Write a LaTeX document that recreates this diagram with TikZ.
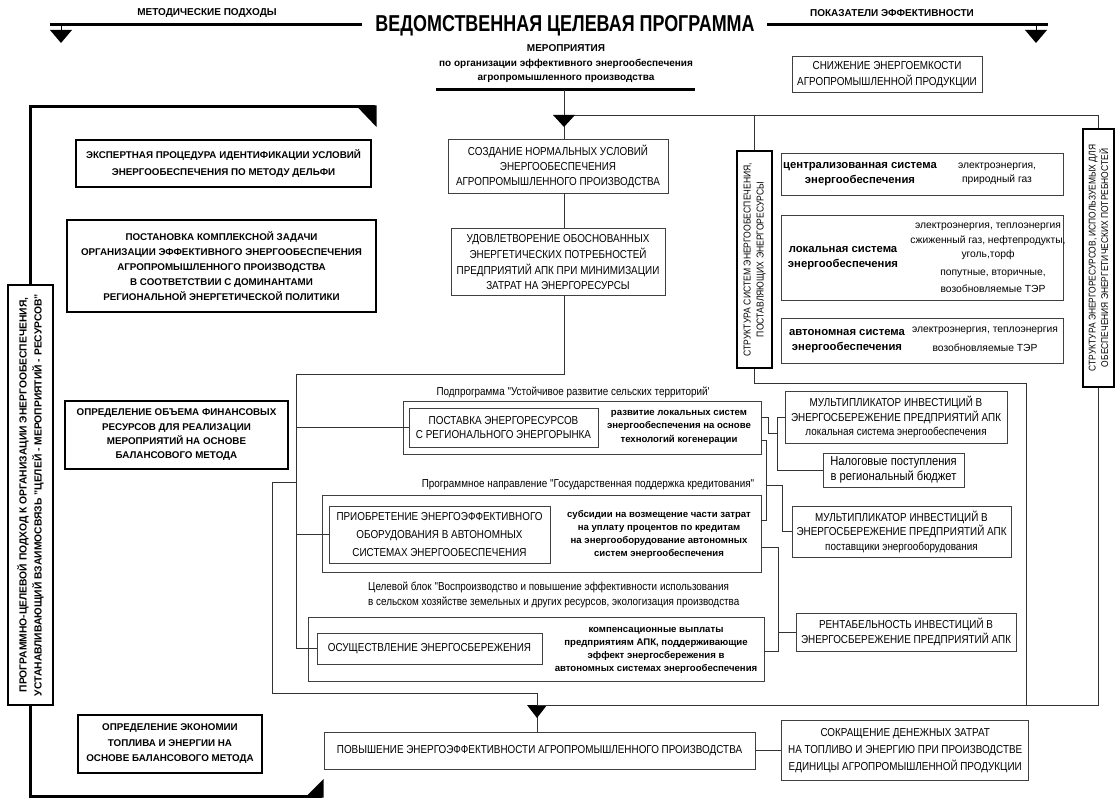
\documentclass[tikz,border=0pt]{standalone}
\usepackage{fontspec}
\setmainfont{Liberation Sans}
\newfontfamily\nf[FakeStretch=0.86]{Liberation Sans}
\newfontfamily\tf[FakeStretch=0.78]{Liberation Sans}
\usetikzlibrary{positioning}

\begin{document}
\begin{tikzpicture}[x=1pt,y=-1pt,
    box/.style={draw=black!75,line width=0.7pt,inner sep=0pt,align=center,font=\nf\fontsize{11.5}{15}\selectfont},
    hbox/.style={draw,line width=2.6pt,inner sep=0pt,align=center,font=\bfseries\fontsize{9.8}{15}\selectfont},
    frame/.style={draw=black!75,line width=0.7pt,inner sep=0pt},
    lbl/.style={inner sep=0pt,align=center,font=\nf\fontsize{11.5}{15}\selectfont},
    rlbl/.style={inner sep=0pt,align=center,font=\fontsize{10.3}{14.5}\selectfont},
    blbl/.style={inner sep=0pt,align=center,font=\bfseries\fontsize{9.6}{13}\selectfont},
    wire/.style={draw=black!80,line width=0.7pt},
    bar/.style={line width=3pt}]
\useasboundingbox (0,0) rectangle (1115,799);

\node[inner sep=0pt,font=\tf\bfseries\fontsize{23}{26}\selectfont] (prog) at (565,26) {ВЕДОМСТВЕННАЯ ЦЕЛЕВАЯ ПРОГРАММА};
\node[font=\bfseries\fontsize{10}{12}\selectfont] (meth) at (207,13) {МЕТОДИЧЕСКИЕ ПОДХОДЫ};
\node[font=\bfseries\fontsize{10}{12}\selectfont] (perf) at (892,13) {ПОКАЗАТЕЛИ ЭФФЕКТИВНОСТИ};
\coordinate (lend) at (50,25);
\coordinate (rend) at (1048,25);
\draw[bar] (prog.west |- lend) ++(-13,0) -- (lend);
\draw[bar] (prog.east |- rend) ++(12,0) -- (rend);
\draw[line width=1pt] (61,25) -- (61,30);
\fill (50,30) -- (72,30) -- (61,43) -- cycle;
\draw[line width=1pt] (1036,25) -- (1036,30);
\fill (1025,30) -- (1047,30) -- (1036,43) -- cycle;

\node[inner sep=0pt,align=center,font=\bfseries\fontsize{10}{14.5}\selectfont] (meropr) at (566,64)
    {МЕРОПРИЯТИЯ\\по организации эффективного энергообеспечения\\агропромышленного производства};
\draw[bar] (436,90) -- (695,90);
\node[box,minimum width=190pt,minimum height=36pt,font=\nf\fontsize{11.5}{15.5}\selectfont] (snizh) at (887,74.5)
    {СНИЖЕНИЕ ЭНЕРГОЕМКОСТИ\\АГРОПРОМЫШЛЕННОЙ ПРОДУКЦИИ};

\node[box,minimum width=220pt,minimum height=54pt] (sozd) at (558,166)
    {СОЗДАНИЕ НОРМАЛЬНЫХ УСЛОВИЙ\\ЭНЕРГООБЕСПЕЧЕНИЯ\\АГРОПРОМЫШЛЕННОГО ПРОИЗВОДСТВА};
\node[box,minimum width=214pt,minimum height=67pt,font=\nf\fontsize{11.5}{15.7}\selectfont,below=35pt of sozd] (udovl)
    {УДОВЛЕТВОРЕНИЕ ОБОСНОВАННЫХ\\ЭНЕРГЕТИЧЕСКИХ ПОТРЕБНОСТЕЙ\\ПРЕДПРИЯТИЙ АПК ПРИ МИНИМИЗАЦИИ\\ЗАТРАТ НА ЭНЕРГОРЕСУРСЫ};

\node[hbox,minimum width=295pt,minimum height=47pt,font=\bfseries\fontsize{9.8}{17}\selectfont] (ekspert) at (223.5,163.5)
    {ЭКСПЕРТНАЯ ПРОЦЕДУРА ИДЕНТИФИКАЦИИ УСЛОВИЙ\\ЭНЕРГООБЕСПЕЧЕНИЯ ПО МЕТОДУ ДЕЛЬФИ};
\node[hbox,minimum width=309pt,minimum height=92pt] (postan) at (221.5,266)
    {ПОСТАНОВКА КОМПЛЕКСНОЙ ЗАДАЧИ\\ОРГАНИЗАЦИИ ЭФФЕКТИВНОГО  ЭНЕРГООБЕСПЕЧЕНИЯ\\АГРОПРОМЫШЛЕННОГО ПРОИЗВОДСТВА\\В СООТВЕТСТВИИ С ДОМИНАНТАМИ\\РЕГИОНАЛЬНОЙ ЭНЕРГЕТИЧЕСКОЙ ПОЛИТИКИ};
\node[hbox,minimum width=223pt,minimum height=68pt,font=\bfseries\fontsize{9.8}{14.3}\selectfont] (opredfin) at (176.5,435)
    {ОПРЕДЕЛЕНИЕ  ОБЪЕМА ФИНАНСОВЫХ\\РЕСУРСОВ  ДЛЯ РЕАЛИЗАЦИИ\\МЕРОПРИЯТИЙ  НА ОСНОВЕ\\БАЛАНСОВОГО МЕТОДА};
\node[hbox,minimum width=184pt,minimum height=58pt,font=\bfseries\fontsize{9.8}{15.5}\selectfont] (opredekon) at (170,744)
    {ОПРЕДЕЛЕНИЕ ЭКОНОМИИ\\ТОПЛИВА И ЭНЕРГИИ НА\\ОСНОВЕ БАЛАНСОВОГО МЕТОДА};
\node[hbox,rotate=90,minimum width=420pt,minimum height=45pt,font=\bfseries\fontsize{10.3}{15}\selectfont] (pcp) at (30.5,495)
    {ПРОГРАММНО-ЦЕЛЕВОЙ ПОДХОД К ОРГАНИЗАЦИИ ЭНЕРГООБЕСПЕЧЕНИЯ,\\УСТАНАВЛИВАЮЩИЙ ВЗАИМОСВЯЗЬ "ЦЕЛЕЙ - МЕРОПРИЯТИЙ - РЕСУРСОВ"};

\node[hbox,rotate=90,minimum width=217pt,minimum height=35pt,font=\nf\fontsize{10}{13}\selectfont] (strsys) at (754.5,259.5)
    {СТРУКТУРА СИСТЕМ ЭНЕРГООБЕСПЕЧЕНИЯ,\\ПОСТАВЛЯЮЩИХ ЭНЕРГОРЕСУРСЫ};
\node[hbox,rotate=90,minimum width=258pt,minimum height=31pt,font=\nf\fontsize{9.8}{12.5}\selectfont] (strres) at (1098.5,258)
    {СТРУКТУРА ЭНЕРГОРЕСУРСОВ, ИСПОЛЬЗУЕМЫХ ДЛЯ\\ОБЕСПЕЧЕНИЯ ЭНЕРГЕТИЧЕСКИХ ПОТРЕБНОСТЕЙ};

\node[box,minimum width=282pt,minimum height=42pt] (central) at (922,174) {};
\node[blbl,font=\bfseries\fontsize{11.3}{15}\selectfont] (centrl) at (860,174) {централизованная система\\энергообеспечения};
\node[rlbl] (centrr) at (997,174) {электроэнергия,\\природный газ};
\node[box,minimum width=282pt,minimum height=85pt] (local) at (922,257.5) {};
\node[blbl,font=\bfseries\fontsize{11.3}{15}\selectfont] (locl) at (843,258) {локальная система\\энергообеспечения};
\node[rlbl] (locr) at (988,241.5) {электроэнергия, теплоэнергия\\сжиженный газ, нефтепродукты,\\уголь,торф};
\node[rlbl,font=\fontsize{10.3}{17}\selectfont] (locv) at (993,281.5) {попутные, вторичные,\\возобновляемые ТЭР};
\node[box,minimum width=282pt,minimum height=45pt] (auton) at (922,340.5) {};
\node[blbl,font=\bfseries\fontsize{11.3}{15}\selectfont] (autl) at (847,341) {автономная система\\энергообеспечения};
\node[rlbl,font=\fontsize{10.3}{19}\selectfont] (autr) at (985,339.5) {электроэнергия, теплоэнергия\\возобновляемые ТЭР};

\node[lbl] (g1t) at (573,392) {Подпрограмма "Устойчивое развитие сельских территорий'};
\node[frame,minimum width=358pt,minimum height=53pt] (g1) at (582,427.5) {};
\node[box,minimum width=189pt,minimum height=39pt,font=\nf\fontsize{11.5}{13.5}\selectfont] (post) at (503.5,427.5)
    {ПОСТАВКА ЭНЕРГОРЕСУРСОВ\\С РЕГИОНАЛЬНОГО ЭНЕРГОРЫНКА};
\node[blbl,font=\bfseries\fontsize{9.6}{13.5}\selectfont] (kogen) at (679,427) {развитие локальных систем\\энергообеспечения на основе\\технологий когенерации};

\node[lbl] (g2t) at (588,485) {Программное направление "Государственная поддержка кредитования"};
\node[frame,minimum width=439pt,minimum height=77pt] (g2) at (541.5,533.5) {};
\node[box,minimum width=221pt,minimum height=57pt,font=\nf\fontsize{11.5}{18}\selectfont] (prio) at (439.5,534.5)
    {ПРИОБРЕТЕНИЕ  ЭНЕРГОЭФФЕКТИВНОГО\\ОБОРУДОВАНИЯ В  АВТОНОМНЫХ\\СИСТЕМАХ  ЭНЕРГООБЕСПЕЧЕНИЯ};
\node[blbl] (subs) at (659,534) {субсидии на возмещение части затрат\\на уплату процентов по кредитам\\на энергооборудование  автономных\\систем  энергообеспечения};

\node[lbl,align=left,anchor=west] (g3t) at (368,594.5)
    {Целевой блок "Воспроизводство и повышение эффективности использования\\в сельском хозяйстве земельных и других ресурсов, экологизация производства};
\node[frame,minimum width=456pt,minimum height=64pt] (g3) at (536,649) {};
\node[box,minimum width=225pt,minimum height=31pt] (osu) at (429.5,648.5) {ОСУЩЕСТВЛЕНИЕ ЭНЕРГОСБЕРЕЖЕНИЯ};
\node[blbl] (komp) at (656,650.5) {компенсационные выплаты\\предприятиям АПК, поддерживающие\\эффект энергосбережения в\\автономных системах энергообеспечения};

\node[box,minimum width=222pt,minimum height=52pt,font=\nf\fontsize{11.5}{14.5}\selectfont] (mult1) at (896,417)
    {МУЛЬТИПЛИКАТОР ИНВЕСТИЦИЙ В\\ЭНЕРГОСБЕРЕЖЕНИЕ ПРЕДПРИЯТИЙ АПК\\локальная система энергообеспечения};
\node[box,minimum width=141pt,minimum height=34pt,font=\nf\fontsize{13}{14.7}\selectfont] (nalog) at (893.5,470)
    {Налоговые поступления\\в региональный бюджет};
\node[box,minimum width=219pt,minimum height=51pt,font=\nf\fontsize{11.5}{14.5}\selectfont] (mult2) at (901.5,531.5)
    {МУЛЬТИПЛИКАТОР ИНВЕСТИЦИЙ В\\ЭНЕРГОСБЕРЕЖЕНИЕ ПРЕДПРИЯТИЙ АПК\\поставщики энергооборудования};
\node[box,minimum width=220pt,minimum height=38pt] (rent) at (906,632)
    {РЕНТАБЕЛЬНОСТЬ ИНВЕСТИЦИЙ В\\ЭНЕРГОСБЕРЕЖЕНИЕ  ПРЕДПРИЯТИЙ АПК};

\node[box,minimum width=431pt,minimum height=37pt,font=\nf\fontsize{11.5}{15}\selectfont] (povysh) at (539.5,750.5)
    {ПОВЫШЕНИЕ ЭНЕРГОЭФФЕКТИВНОСТИ  АГРОПРОМЫШЛЕННОГО ПРОИЗВОДСТВА};
\node[box,minimum width=247pt,minimum height=60pt,font=\nf\fontsize{11.5}{17}\selectfont,right=26pt of povysh] (sokr)
    {СОКРАЩЕНИЕ ДЕНЕЖНЫХ ЗАТРАТ\\НА ТОПЛИВО И ЭНЕРГИЮ ПРИ ПРОИЗВОДСТВЕ\\ЕДИНИЦЫ АГРОПРОМЫШЛЕННОЙ ПРОДУКЦИИ};

\coordinate (hub) at (564,90);
\coordinate (fork) at (564,115);
\coordinate (ta) at (296,374);
\coordinate (tb) at (272,482);
\coordinate (tc) at (537,693);
\coordinate (td) at (537,705);
\coordinate (te) at (1026,383);
\coordinate (bus1) at (777,0);
\coordinate (bus2) at (766,0);
\coordinate (bus3) at (782,0);
\coordinate (bus4) at (778,0);
\coordinate (lc) at (375,107);
\coordinate (rc) at (322,796);

\draw[wire] (hub) -- (hub |- sozd.north);
\draw[wire] (fork) -| (strres.east);
\draw[wire] (strsys.east |- fork) -- (strsys.east);
\fill (553,115) -- (575,115) -- (564,127) -- cycle;
\draw[wire] (sozd.south -| fork) -- (udovl.north -| fork);
\draw[wire] (udovl.south -| fork) |- (ta) |- (osu.west);
\draw[wire] (ta |- post) -- (post.west);
\draw[wire] (ta |- prio) -- (prio.west);
\draw[wire] (ta |- tb) -- (tb) |- (tc) -- (povysh.north -| tc);
\fill (527,705) -- (547,705) -- (537,718) -- cycle;
\draw[wire] (td) -| (strres.west);
\draw[wire] (strsys.west) |- (te) -- (te |- td);

\draw[wire] (g1.east |- mult1) -- ++(7,0) -- ++(0,16) -- ++(9,0);
\draw[wire] (mult1.west) -- (bus1 |- mult1) -- (bus1 |- nalog) -- (nalog.west);
\draw[wire] (g1.east |- 0,440) -| (bus2 |- 0,520) -- (g2.east |- 0,520);
\draw[wire] (bus2 |- g2t) -| (bus3 |- mult2) -- (mult2.west);
\draw[wire] (g2.east |- 0,547) -| (bus4 |- 0,651) -- (g3.east |- 0,651);
\draw[wire] (bus4 |- rent) -- (rent.west);
\path[wire] (povysh) edge (sokr);

\draw[bar] (pcp.east) |- (lc);
\fill (356,105.5) -- (376.5,105.5) -- (376.5,127) -- cycle;
\draw[bar] (pcp.west) |- (rc);
\fill (305,797.5) -- (323.5,797.5) -- (323.5,779) -- cycle;
\end{tikzpicture}
\end{document}
